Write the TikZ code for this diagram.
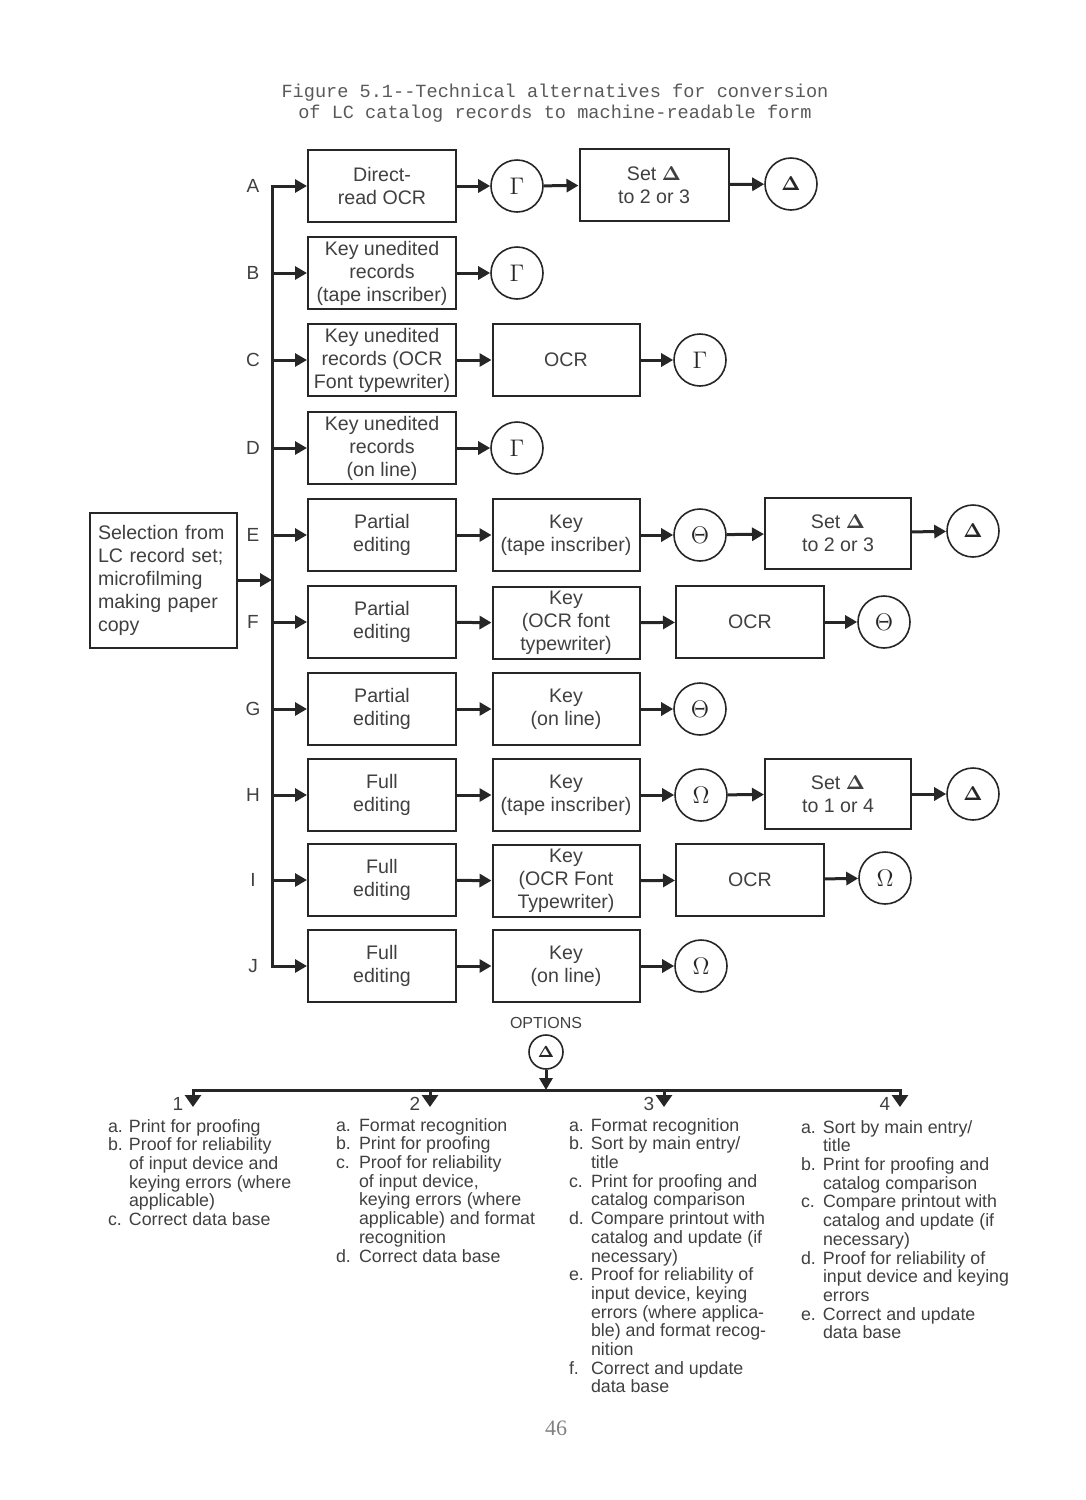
\documentclass[tikz,border=0pt]{standalone}
\usepackage[no-math]{fontspec}
\setmainfont{Liberation Sans}
\setmonofont{Liberation Mono}
\newfontfamily\pagefont{Liberation Serif}
\usetikzlibrary{arrows.meta}

\begin{document}
\begin{tikzpicture}[x=0.5pt, y=-0.5pt, line width=1pt, color=black!85,
    box/.style={draw, minimum width=74pt, minimum height=36pt, inner sep=1pt, align=center, text=black!75, font=\fontsize{9.8}{11.5}\selectfont},
    circ/.style={circle, draw, line width=0.8pt, minimum size=26pt, inner sep=0pt, font=\fontsize{12}{14}\selectfont},
    dcirc/.style={circ, font=\fontsize{10}{12}\selectfont},
    lbl/.style={text=black!75, font=\fontsize{9.5}{11}\selectfont},
    arr/.style={-{Triangle[length=6pt,width=6.5pt]}, line width=1.5pt},
    optlist/.style={anchor=north west, align=left, inner sep=0pt, text=black!75, font=\fontsize{8.9}{9.35}\selectfont}]
  \useasboundingbox (0,0) rectangle (1086,1500);

  \node[font=\ttfamily\fontsize{9.3}{10.5}\selectfont, align=center, text=black!65] (title) at (555,103)
    {Figure 5.1-{}-Technical alternatives for conversion\\of LC catalog records to machine-readable form};

  \node[box, minimum width=73.5pt, minimum height=67.5pt, align=left, text width=65pt, inner xsep=4pt] (src) at (163,580)
    {Selection from\\LC record set;\\microfilming\\making paper\\copy};

  \foreach \r/\y in {A/186,B/273,C/360,D/448,E/535,F/622,G/709,H/795,I/880,J/966}{
    \coordinate (b\r) at (272,\y);
    \node[lbl] (l\r) at (253,\y) {\r};
  }
  \coordinate (bS) at (272,580);
  \draw[line width=1.5pt, line cap=rect] (bA) -- (bJ);
  \draw[arr] (src.east) -- (bS);

  % A
  \node[box] (pA) at (382,186) {Direct-\\read OCR};
  \node[circ] (gA) at (517,186) {$\Gamma$};
  \node[box, minimum width=74.5pt] (sA) at (654,185) {Set $\mathbf{\Delta}$\\to 2 or 3};
  \node[dcirc] (dA) at (791,184) {$\mathbf{\Delta}$};
  % B
  \node[box] (pB) at (382,273) {Key unedited\\records\\(tape inscriber)};
  \node[circ] (gB) at (517,273) {$\Gamma$};
  % C
  \node[box] (pC) at (382,360) {Key unedited\\records (OCR\\Font typewriter)};
  \node[box, minimum width=73.5pt] (oC) at (566,360) {OCR};
  \node[circ] (gC) at (700,360) {$\Gamma$};
  % D
  \node[box] (pD) at (382,448) {Key unedited\\records\\(on line)};
  \node[circ] (gD) at (517,448) {$\Gamma$};
  % E
  \node[box] (pE) at (382,535) {Partial\\editing};
  \node[box, minimum width=73.5pt] (kE) at (566,535) {Key\\(tape inscriber)};
  \node[circ] (tE) at (700,535) {$\Theta$};
  \node[box, minimum width=73pt, minimum height=35.5pt] (sE) at (838,533) {Set $\mathbf{\Delta}$\\to 2 or 3};
  \node[dcirc] (dE) at (973,531) {$\mathbf{\Delta}$};
  % F
  \node[box] (pF) at (382,622) {Partial\\editing};
  \node[box, minimum width=73.5pt] (kF) at (566,623) {Key\\(OCR font\\typewriter)};
  \node[box] (oF) at (750,622) {OCR};
  \node[circ] (tF) at (884,622) {$\Theta$};
  % G
  \node[box] (pG) at (382,709) {Partial\\editing};
  \node[box, minimum width=73.5pt] (kG) at (566,709) {Key\\(on line)};
  \node[circ] (tG) at (700,709) {$\Theta$};
  % H
  \node[box] (pH) at (382,795) {Full\\editing};
  \node[box, minimum width=73.5pt] (kH) at (566,795) {Key\\(tape inscriber)};
  \node[circ] (wH) at (701,795) {$\Omega$};
  \node[box, minimum width=73pt, minimum height=35pt] (sH) at (838,794) {Set $\mathbf{\Delta}$\\to 1 or 4};
  \node[dcirc] (dH) at (973,794) {$\mathbf{\Delta}$};
  % I
  \node[box] (pI) at (382,880) {Full\\editing};
  \node[box, minimum width=73.5pt] (kI) at (566,881) {Key\\(OCR Font\\Typewriter)};
  \node[box] (oI) at (750,880) {OCR};
  \node[circ] (wI) at (885,878) {$\Omega$};
  % J
  \node[box] (pJ) at (382,966) {Full\\editing};
  \node[box, minimum width=73.5pt] (kJ) at (566,966) {Key\\(on line)};
  \node[circ] (wJ) at (701,966) {$\Omega$};

  \foreach \r in {A,B,C,D,E,F,G,H,I,J}
    \draw[arr] (b\r) -- (p\r.west);
  \draw[arr] (pA) -- (gA);  \draw[arr] (gA) -- (sA);  \draw[arr] (sA) -- (dA);
  \draw[arr] (pB) -- (gB);
  \draw[arr] (pC) -- (oC);  \draw[arr] (oC) -- (gC);
  \draw[arr] (pD) -- (gD);
  \draw[arr] (pE) -- (kE);  \draw[arr] (kE) -- (tE);  \draw[arr] (tE) -- (sE);  \draw[arr] (sE) -- (dE);
  \draw[arr] (pF) -- (kF);  \draw[arr] (kF) -- (oF);  \draw[arr] (oF) -- (tF);
  \draw[arr] (pG) -- (kG);  \draw[arr] (kG) -- (tG);
  \draw[arr] (pH) -- (kH);  \draw[arr] (kH) -- (wH);  \draw[arr] (wH) -- (sH);  \draw[arr] (sH) -- (dH);
  \draw[arr] (pI) -- (kI);  \draw[arr] (kI) -- (oI);  \draw[arr] (oI) -- (wI);
  \draw[arr] (pJ) -- (kJ);  \draw[arr] (kJ) -- (wJ);

  % options
  \node[text=black!75, font=\fontsize{8}{10}\selectfont] (optlbl) at (546,1023) {OPTIONS};
  \node[circ, minimum size=17pt, font=\fontsize{8.5}{10}\selectfont] (optD) at (546,1052) {$\mathbf{\Delta}$};
  \coordinate (oj) at (546,1090);
  \draw[arr] (optD) -- (oj);
  \foreach \k/\x in {1/193,2/430,3/664,4/900}{
    \coordinate (o\k) at (\x,1090);
    \coordinate (e\k) at (\x,1107);
    \draw[-{Triangle[length=6pt,width=8pt]}, line width=1.5pt] (o\k) -- (e\k);
    \node[lbl] (n\k) at (\x-15,1104) {\k};
  }
  \draw[line width=1.5pt, line cap=rect] (o1) -- (o4);

  \node[optlist] (list1) at (107,1118) {\begin{tabular}{@{}p{10.5pt}@{}l@{}}
    a. & Print for proofing\\
    b. & Proof for reliability\\
       & of input device and\\
       & keying errors (where\\
       & applicable)\\
    c. & Correct data base
  \end{tabular}};
  \node[optlist] (list2) at (335,1117) {\begin{tabular}{@{}p{11.5pt}@{}l@{}}
    a. & Format recognition\\
    b. & Print for proofing\\
    c. & Proof for reliability\\
       & of input device,\\
       & keying errors (where\\
       & applicable) and format\\
       & recognition\\
    d. & Correct data base
  \end{tabular}};
  \node[optlist] (list3) at (568,1117) {\begin{tabular}{@{}p{11pt}@{}l@{}}
    a. & Format recognition\\
    b. & Sort by main entry/\\
       & title\\
    c. & Print for proofing and\\
       & catalog comparison\\
    d. & Compare printout with\\
       & catalog and update (if\\
       & necessary)\\
    e. & Proof for reliability of\\
       & input device, keying\\
       & errors (where applica-\\
       & ble) and format recog-\\
       & nition\\
    f. & Correct and update\\
       & data base
  \end{tabular}};
  \node[optlist] (list4) at (800,1119) {\begin{tabular}{@{}p{11pt}@{}l@{}}
    a. & Sort by main entry/\\
       & title\\
    b. & Print for proofing and\\
       & catalog comparison\\
    c. & Compare printout with\\
       & catalog and update (if\\
       & necessary)\\
    d. & Proof for reliability of\\
       & input device and keying\\
       & errors\\
    e. & Correct and update\\
       & data base
  \end{tabular}};

  \node[font=\pagefont\fontsize{11}{13}\selectfont, text=black!50] (page) at (556,1428) {46};
\end{tikzpicture}
\end{document}
